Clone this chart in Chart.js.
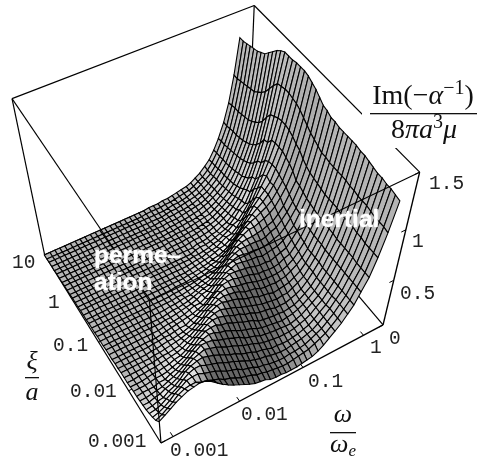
<!DOCTYPE html>
<html>
<head>
  <meta charset="UTF-8">
  <title>Im(-1/alpha) surface</title>
  <script src="https://cdn.jsdelivr.net/npm/chart.js"></script>
  <style>
    body { margin: 0; background: #fff; }
    canvas { display: block; }
  </style>
</head>
<body>
<canvas id="surface" width="477" height="465"></canvas>

<script>
  // log10 of omega/omega_e for each mesh line
  const logOmega = [-3.18,-3.09,-3.01,-2.93,-2.85,-2.76,-2.68,-2.60,-2.52,-2.43,-2.35,-2.27,-2.19,-2.10,-2.02,-1.94,-1.86,-1.77,-1.69,-1.61,
    -1.53,-1.44,-1.36,-1.28,-1.20,-1.11,-1.03,-0.95,-0.87,-0.78,-0.70,-0.62,-0.54,-0.45,-0.37,-0.29,-0.21,-0.12,-0.04,0.04,0.12];
  // log10 of xi/a for each mesh line
  const logXi = [-3.0,-2.9,-2.8,-2.7,-2.6,-2.5,-2.4,-2.3,-2.2,-2.1,-2.0,-1.9,-1.8,-1.7,-1.6,-1.5,-1.4,-1.3,-1.2,-1.1,
    -1.0,-0.9,-0.8,-0.7,-0.6,-0.5,-0.4,-0.3,-0.2,-0.1,0.0,0.1,0.2,0.3,0.4,0.5,0.6,0.7,0.8,0.9,1.0];
  // height in hundredths, one row per xi, one column per omega
  const heightRows = [
    [27,31,35,39,42,45,46,47,46,42,37,32,28,24,21,18,15,12,11,10,7,6,6,5,5,5,6,7,8,11,15,20,25,31,38,45,56,68,85,106,132],
    [22,25,29,33,38,41,42,42,39,37,34,32,28,26,23,20,18,16,13,12,10,9,8,7,7,8,9,10,11,14,17,20,25,31,38,45,56,68,85,107,133],
    [19,21,24,28,33,37,41,42,42,39,37,35,32,28,26,24,20,18,16,13,12,10,9,8,8,9,9,10,11,14,17,20,25,31,38,45,56,68,85,107,134],
    [17,18,20,24,27,31,36,40,42,42,39,37,35,32,29,27,24,21,18,16,14,13,11,10,9,9,10,11,12,14,16,20,25,31,38,45,56,68,85,107,134],
    [15,16,18,19,23,26,30,36,39,41,42,40,38,35,32,29,27,23,21,19,16,15,13,11,11,10,10,11,12,14,16,20,25,30,37,45,56,69,86,108,135],
    [14,14,16,17,20,22,25,29,34,38,40,42,40,38,35,32,30,27,24,22,20,17,15,14,13,12,12,12,13,15,17,20,25,30,37,45,56,69,86,109,135],
    [13,13,14,15,16,19,21,24,28,33,37,41,41,40,37,35,33,30,28,24,22,20,17,16,15,14,14,13,13,15,17,21,25,30,37,45,56,69,87,109,136],
    [12,13,13,13,15,15,18,20,23,27,32,36,39,41,40,37,36,33,30,27,25,23,20,18,17,16,15,14,15,16,18,21,25,30,37,45,56,69,87,109,137],
    [12,12,12,13,14,14,15,17,19,22,26,30,35,39,40,40,37,36,33,31,28,26,24,20,19,18,17,17,16,17,18,21,25,30,37,45,56,69,87,110,138],
    [11,11,11,12,13,13,14,15,17,18,21,25,30,34,38,40,40,38,36,33,32,28,27,24,22,21,20,18,18,18,20,22,25,31,38,46,56,70,87,110,138],
    [10,10,11,11,12,12,13,14,15,16,18,21,24,29,33,37,39,40,38,36,34,31,29,27,25,23,22,21,20,21,21,24,27,31,38,46,57,70,88,111,139],
    [10,10,10,10,11,11,12,13,13,14,15,18,20,24,27,33,36,39,40,38,37,35,32,30,29,26,25,24,22,23,24,25,28,32,38,46,57,70,88,111,139],
    [10,10,10,10,10,10,11,11,12,13,14,15,17,19,23,26,32,35,38,39,38,37,35,32,31,30,27,26,26,25,26,27,30,34,39,46,57,71,88,111,139],
    [9,9,9,9,9,9,10,10,11,12,12,13,14,16,18,22,26,30,35,38,39,38,36,35,34,32,30,29,28,28,28,29,31,35,41,48,58,71,88,111,139],
    [9,9,9,9,9,9,9,10,10,11,11,12,13,13,16,18,21,25,30,34,38,39,39,37,36,35,33,31,31,30,30,31,34,36,42,49,59,72,89,111,139],
    [8,8,8,8,8,8,8,8,8,9,10,11,12,13,14,15,17,19,23,27,33,37,39,39,38,37,36,34,33,33,32,34,36,38,44,51,60,73,90,112,140],
    [8,8,8,8,8,8,8,8,8,8,9,10,10,11,12,14,16,16,19,23,28,32,36,38,40,39,38,37,37,35,36,37,38,41,46,52,62,74,91,112,140],
    [8,8,8,8,8,8,8,8,8,8,8,9,9,10,11,12,13,15,18,19,22,27,31,36,39,41,40,39,39,38,38,39,41,43,48,55,63,76,92,114,142],
    [7,7,7,7,7,7,7,7,7,7,7,7,8,9,9,10,11,13,15,17,18,22,26,31,36,39,41,41,41,41,40,41,44,46,51,57,65,78,94,116,143],
    [7,7,7,7,7,7,7,7,7,7,7,7,7,8,8,9,10,10,12,14,15,17,21,25,30,35,39,41,42,42,43,44,46,48,53,59,68,79,97,118,146],
    [7,7,7,7,7,7,7,7,7,7,7,7,7,7,7,8,8,9,10,11,13,14,16,19,23,28,34,39,42,45,45,47,49,52,56,63,71,84,101,121,149],
    [6,6,6,6,6,6,6,6,6,6,6,6,6,6,6,7,7,8,8,9,10,12,14,15,18,22,27,33,38,43,46,48,51,54,58,65,73,87,103,124,151],
    [6,6,6,6,6,6,6,6,6,6,6,6,6,6,6,6,7,7,7,8,9,10,11,13,14,17,20,25,30,37,42,47,51,55,60,67,75,89,106,127,153],
    [6,6,6,6,6,6,6,6,6,6,6,6,6,6,6,6,6,6,6,7,7,8,9,10,12,13,15,18,23,28,35,42,49,55,60,66,77,91,108,129,154],
    [5,5,5,5,5,5,5,5,5,5,5,5,5,5,5,5,5,5,5,5,6,7,8,9,10,12,14,15,18,22,28,35,43,51,60,68,77,91,109,130,154],
    [5,5,5,5,5,5,5,5,5,5,5,5,5,5,5,5,5,5,5,5,5,6,7,7,9,10,11,14,17,18,22,28,35,44,54,65,76,91,109,131,154],
    [5,5,5,5,5,5,5,5,5,5,5,5,5,5,5,5,5,5,5,5,5,5,6,6,7,8,10,11,14,17,21,23,29,37,49,59,73,90,108,131,153],
    [4,4,4,4,4,4,4,4,4,4,4,4,4,4,4,4,4,4,4,4,4,4,4,6,7,7,8,10,12,14,17,22,28,32,42,53,67,84,106,130,153],
    [4,4,4,4,4,4,4,4,4,4,4,4,4,4,4,4,4,4,4,4,4,4,4,4,6,6,7,9,10,13,15,19,24,31,40,51,65,83,104,129,153],
    [4,4,4,4,4,4,4,4,4,4,4,4,4,4,4,4,4,4,4,4,4,4,4,5,6,6,7,8,10,12,15,18,23,29,37,46,59,76,98,124,151],
    [3,3,3,3,3,3,3,3,3,3,3,3,3,3,3,3,3,3,3,3,4,4,4,5,5,6,7,8,9,11,14,17,21,27,34,43,55,71,91,118,148],
    [3,3,3,3,3,3,3,3,3,3,3,3,3,3,3,3,3,3,3,3,4,4,4,4,5,5,6,7,8,10,13,16,20,25,32,40,52,67,86,112,144],
    [3,3,3,3,3,3,3,3,3,3,3,3,3,3,3,3,3,3,3,3,3,3,4,4,4,5,6,7,8,9,12,15,19,24,30,39,50,64,83,108,140],
    [2,2,2,2,2,2,2,2,2,2,2,2,2,2,2,2,2,2,2,2,2,3,3,4,4,5,5,6,7,9,11,14,18,23,29,37,48,62,80,105,136],
    [2,2,2,2,2,2,2,2,2,2,2,2,2,2,2,2,2,2,2,2,2,2,3,3,4,4,5,6,7,9,11,14,17,22,28,36,47,60,78,102,134],
    [2,2,2,2,2,2,2,2,2,2,2,2,2,2,2,2,2,2,2,2,2,2,3,3,3,4,5,6,7,8,10,13,17,21,27,35,46,59,77,101,132],
    [1,1,1,1,1,1,1,1,1,1,1,1,1,1,1,1,1,1,1,1,1,2,2,3,3,4,4,5,6,8,10,12,16,21,27,34,45,58,76,100,131],
    [1,1,1,1,1,1,1,1,1,1,1,1,1,1,1,1,1,1,1,1,1,1,1,2,3,3,4,5,6,7,9,12,15,20,26,34,44,58,75,99,130],
    [1,1,1,1,1,1,1,1,1,1,1,1,1,1,1,1,1,1,1,1,1,1,1,1,2,3,3,4,5,7,9,12,15,19,25,33,43,57,75,98,129],
    [0,0,0,0,0,0,0,0,0,0,0,0,0,0,0,0,0,0,0,0,1,1,1,1,2,2,3,4,5,6,8,11,14,19,25,33,43,56,74,97,128],
    [0,0,0,0,0,0,0,0,0,0,0,0,0,0,0,0,0,0,0,0,0,1,1,1,2,2,3,4,5,6,8,11,14,19,24,32,42,56,73,97,128]
  ];

  const omegaTicks = [-3, -2, -1, 0];
  const omegaTickLabels = ['0.001', '0.01', '0.1', '1'];
  const xiTicks = [1, 0, -1, -2, -3];
  const xiTickLabels = ['10', '1', '0.1', '0.01', '0.001'];
  const heightTicks = [0, 0.5, 1, 1.5];
  const heightTickLabels = ['0', '0.5', '1', '1.5'];

  // data -> unit box
  const boxX = v => (v + 3.175) * 0.285;
  const boxY = v => (v + 3) / 4;
  const boxZ = v => v / 1.5;

  // perspective of the box, fitted to its corners
  function project(bx, by, bz) {
    const w = 1 + 0.0886 * bx + 0.154 * by - 0.19 * bz;
    return {
      x: (161 + 256 * bx - 109.5 * by - 39.9 * bz) / w,
      y: (443 - 89.3 * bx - 148.9 * by - 199 * bz) / w
    };
  }

  function edge(a, b, width) {
    return {
      data: [project(a[0], a[1], a[2]), project(b[0], b[1], b[2])],
      showLine: true, fill: false, pointRadius: 0,
      borderColor: '#000', borderWidth: width
    };
  }

  const front = [];
  const back = [];

  // edges in front of the surface
  front.push(edge([0, 0, 1], [0, 0, 0], 1.2));
  front.push(edge([0, 0, 1], [0, 1, 1], 1.1));
  front.push(edge([0, 0, 1], [1, 0, 1], 1.1));

  // edges behind it
  back.push(edge([0, 0, 0], [1, 0, 0], 1.4));
  back.push(edge([0, 0, 0], [0, 1, 0], 1.2));
  back.push(edge([1, 0, 0], [1, 0, 1], 1.4));
  back.push(edge([0, 1, 0], [0, 1, 1], 1.2));
  back.push(edge([0, 1, 1], [1, 1, 1], 1.2));
  back.push(edge([1, 1, 1], [1, 0, 1], 1.2));
  back.push(edge([1, 1, 1], [1, 1, 0], 1.2));
  back.push(edge([1, 0, 0], [1, 1, 0], 1.2));
  back.push(edge([0, 1, 0], [1, 1, 0], 1.2));

  omegaTicks.forEach(t => back.push(edge([boxX(t), 0, 0], [boxX(t), 0.02, 0], 1)));
  xiTicks.forEach(t => back.push(edge([0, boxY(t), 0], [0.02, boxY(t), 0], 1)));
  heightTicks.forEach(t => back.push(edge([1, 0, boxZ(t)], [0.98, 0, boxZ(t)], 1)));

  function heightAt(j, i) {
    const r = heightRows[Math.max(0, Math.min(logXi.length - 1, j))];
    return boxZ(r[Math.max(0, Math.min(logOmega.length - 1, i))] / 100);
  }

  // shade of one cell, slope taken over a few cells so the rounding does not show
  function shade(j, i) {
    const s = 2;
    const iHi = Math.min(40, i + s + 1), iLo = Math.max(0, i - s);
    const jHi = Math.min(40, j + s + 1), jLo = Math.max(0, j - s);
    const dx = boxX(logOmega[iHi]) - boxX(logOmega[iLo]);
    const dy = boxY(logXi[jHi]) - boxY(logXi[jLo]);
    const zx = (heightAt(j, iHi) + heightAt(j + 1, iHi) - heightAt(j, iLo) - heightAt(j + 1, iLo)) / 2 / dx;
    const zy = (heightAt(jHi, i) + heightAt(jHi, i + 1) - heightAt(jLo, i) - heightAt(jLo, i + 1)) / 2 / dy;
    const len = Math.sqrt(zx * zx + zy * zy + 1);
    const light = (0.5 * zx - 0.7 * zy + 0.5) / len;
    // faces turned away from the light stay a mid dark grey
    const g = light > 0 ? Math.min(1, 0.44 + 0.48 * light) : Math.max(0.36, 0.44 + 0.15 * light);
    const c = Math.round(g * 255);
    return `rgb(${c},${c},${c})`;
  }

  // first dataset ends up on top, so nearest cells come first
  const cells = [];
  for (let j = 0; j < logXi.length - 1; j++) {
    for (let i = 0; i < logOmega.length - 1; i++) {
      const corner = (a, b) => project(boxX(logOmega[b]), boxY(logXi[a]), heightAt(a, b));
      cells.push({
        data: [corner(j, i), corner(j, i + 1), corner(j + 1, i + 1), corner(j + 1, i), corner(j, i)],
        showLine: true, fill: 'shape', pointRadius: 0,
        backgroundColor: shade(j, i),
        borderColor: '#000', borderWidth: 1.1
      });
    }
  }

  function run(ctx, parts, x, y, align) {
    // parts: [text, font, raise]
    let w = 0;
    parts.forEach(p => { ctx.font = p[1]; w += ctx.measureText(p[0]).width; });
    let cx = align === 'center' ? x - w / 2 : x;
    ctx.textAlign = 'left';
    parts.forEach(p => {
      ctx.font = p[1];
      ctx.fillText(p[0], cx, y - (p[2] || 0));
      cx += ctx.measureText(p[0]).width;
    });
  }

  const labelsPlugin = {
    id: 'labels',
    afterDatasetsDraw(chart) {
      const ctx = chart.ctx;
      ctx.save();

      // the big fraction sits on a white patch that cuts the box edge
      ctx.fillStyle = '#fff';
      ctx.fillRect(362, 78, 115, 70);

      ctx.fillStyle = '#222';
      ctx.textBaseline = 'alphabetic';
      ctx.textAlign = 'left';
      ctx.font = '19.5px "Liberation Mono"';
      const omegaSpots = [[170, 456], [241, 420], [308, 387], [370, 353]];
      omegaTickLabels.forEach((t, k) => ctx.fillText(t, omegaSpots[k][0], omegaSpots[k][1]));
      const xiSpots = [[12, 268], [48, 308], [53, 351], [70, 397], [88, 447]];
      xiTickLabels.forEach((t, k) => ctx.fillText(t, xiSpots[k][0], xiSpots[k][1]));
      const heightSpots = [[389, 344], [400, 299], [412, 247], [429, 189]];
      heightTickLabels.forEach((t, k) => ctx.fillText(t, heightSpots[k][0], heightSpots[k][1]));

      // fractions
      const serif = '"Liberation Serif"';
      ctx.fillStyle = '#111';
      run(ctx, [['Im(\u2212', `28px ${serif}`], ['\u03b1', `italic 28px ${serif}`], ['\u22121', `20px ${serif}`, 10], [')', `28px ${serif}`]], 423, 104, 'center');
      ctx.fillRect(370, 113, 107, 1.3);
      run(ctx, [['8', `28px ${serif}`], ['\u03c0a', `italic 28px ${serif}`], ['3', `20px ${serif}`, 10], ['\u03bc', `italic 28px ${serif}`]], 424, 138, 'center');

      run(ctx, [['\u03be', `italic 26px ${serif}`]], 32, 369, 'center');
      ctx.fillRect(25, 377, 14, 1.3);
      run(ctx, [['a', `italic 26px ${serif}`]], 32, 400, 'center');

      run(ctx, [['\u03c9', `italic 26px ${serif}`]], 343, 422, 'center');
      ctx.fillRect(330, 432, 26, 1.3);
      run(ctx, [['\u03c9', `italic 26px ${serif}`], ['e', `italic 17px ${serif}`, -4]], 343, 452, 'center');

      // region names
      ctx.fillStyle = '#fff';
      ctx.shadowColor = '#fff';
      ctx.shadowBlur = 2;
      ctx.font = 'bold 24.5px "Liberation Sans"';
      ctx.fillText('perme\u2013', 94, 263);
      ctx.fillText('ation', 94, 290);
      ctx.fillText('inertial', 299, 227);
      ctx.restore();
    }
  };

  new Chart(document.getElementById('surface'), {
    type: 'scatter',
    data: { datasets: front.concat(cells, back) },
    plugins: [labelsPlugin],
    options: {
      responsive: false,
      animation: false,
      events: [],
      layout: { padding: 0 },
      plugins: { legend: { display: false }, tooltip: { enabled: false } },
      scales: {
        x: { type: 'linear', min: 0, max: 477, display: false },
        y: { type: 'linear', min: 0, max: 465, reverse: true, display: false }
      }
    }
  });
</script>
</body>
</html>
